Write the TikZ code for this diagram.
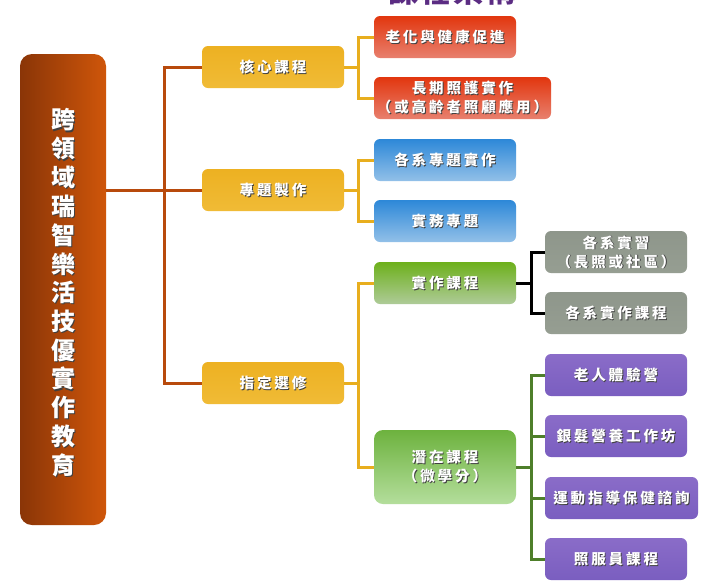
\documentclass[tikz,border=0pt]{standalone}
\usepackage{fontspec}
\newfontfamily\cjk{Noto Sans CJK TC}[LetterSpace=20]
\newfontfamily\cjkt{Noto Sans CJK TC}[LetterSpace=8]
\newfontfamily\cjkm{Noto Sans CJK TC}
\definecolor{goldA}{HTML}{EDB122}
\definecolor{goldM}{HTML}{C98E0E}
\definecolor{goldB}{HTML}{F0BB36}
\definecolor{redA}{HTML}{E2360E}
\definecolor{redM}{HTML}{C42808}
\definecolor{redB}{HTML}{E8806E}
\definecolor{blueA}{HTML}{2D88D8}
\definecolor{blueM}{HTML}{1C68B5}
\definecolor{blueB}{HTML}{92C0E8}
\definecolor{grnA}{HTML}{6DB01B}
\definecolor{grnM}{HTML}{5A9912}
\definecolor{grnB}{HTML}{AECB98}
\definecolor{lgrnA}{HTML}{6DB23E}
\definecolor{lgrnM}{HTML}{5C9A33}
\definecolor{lgrnB}{HTML}{B4DE9C}
\definecolor{grayA}{HTML}{8E968B}
\definecolor{grayM}{HTML}{7A8378}
\definecolor{grayB}{HTML}{969E92}
\definecolor{purA}{HTML}{8A6CC8}
\definecolor{purM}{HTML}{563A9A}
\definecolor{purB}{HTML}{7A5EC0}
\definecolor{mainA}{HTML}{8A3507}
\definecolor{mainB}{HTML}{CF560A}
\definecolor{brownln}{HTML}{B84A0C}
\definecolor{goldln}{HTML}{E8AE1E}
\definecolor{greenln}{HTML}{4E7F2A}
\definecolor{titlec}{HTML}{5B2C83}
\newcommand\mybox[7]{%
  \node[#2, minimum width=#5, minimum height=#6] (#1) at (#3,#4) {};
  \node[shadowtxt] at ([shift={(0.9pt,-0.9pt)}]#1.center) {#7};
  \node[whitetxt] at (#1.center) {#7};
}
\tikzset{
  boxbase/.style={rounded corners=6pt, inner sep=0pt, draw=none},
  goldbox/.style={boxbase, shade, top color=goldA, middle color=goldM, bottom color=goldB},
  redbox/.style={boxbase, shade, shading angle=40, top color=redA, middle color=redM, bottom color=redB},
  bluebox/.style={boxbase, shade, shading angle=40, top color=blueA, middle color=blueM, bottom color=blueB},
  grnbox/.style={boxbase, shade, shading angle=40, top color=grnA, middle color=grnM, bottom color=grnB},
  lgrnbox/.style={boxbase, rounded corners=9pt, shade, shading angle=40, top color=lgrnA, middle color=lgrnM, bottom color=lgrnB},
  graybox/.style={boxbase, shade, shading angle=40, top color=grayA, middle color=grayM, bottom color=grayB},
  purbox/.style={boxbase, shade, shading angle=40, top color=purA, middle color=purM, bottom color=purB},
  whitetxt/.style={text=white, font=\cjk\bfseries\fontsize{14.5}{19}\selectfont, align=center, inner sep=0pt},
  shadowtxt/.style={text=black!75, font=\cjk\bfseries\fontsize{14.5}{19}\selectfont, align=center, inner sep=0pt},
  conn/.style={line width=3pt},
}
\begin{document}
\begin{tikzpicture}[x=1pt,y=-1pt]
\useasboundingbox (0,0) rectangle (720,582);
\clip (0,0) rectangle (720,582);
\fill[white] (0,0) rectangle (720,582);

% title (cut off at top, as in the reference)
\node[anchor=base, text=titlec, font=\cjkt\bfseries\fontsize{30}{30}\selectfont, inner sep=0pt] (title) at (452,2) {課程架構};

% main box
\node[rounded corners=12pt, minimum width=86pt, minimum height=471pt, inner sep=0pt, shade, shading angle=-15, left color=mainA, right color=mainB] (main) at (63,289.5) {};
\foreach \c [count=\i from 0] in {跨,領,域,瑞,智,樂,活,技,優,實,作,教,育}{
  \node[text=black!75, font=\cjkm\bfseries\fontsize{24}{24}\selectfont, inner sep=0pt] at ([shift={(1.2pt,-1.2pt)}]63,{120+28.75*\i}) {\c};
  \node[text=white, font=\cjkm\bfseries\fontsize{24}{24}\selectfont, inner sep=0pt] at (63,{120+28.75*\i}) {\c};
}

% level 1
\mybox{b1}{goldbox}{273}{67}{142pt}{42pt}{核心課程}
\mybox{b2}{goldbox}{273}{190}{142pt}{42pt}{專題製作}
\mybox{b3}{goldbox}{273}{383}{142pt}{42pt}{指定選修}

% level 2
\mybox{r1}{redbox}{445}{37}{142pt}{42pt}{老化與健康促進}
\mybox{r2}{redbox}{462.5}{98}{177pt}{42pt}{長期照護實作\\（或高齡者照顧應用）}
\mybox{u1}{bluebox}{445}{160}{142pt}{42pt}{各系專題實作}
\mybox{u2}{bluebox}{445}{221}{142pt}{42pt}{實務專題}
\mybox{g1}{grnbox}{445}{283}{142pt}{42pt}{實作課程}
\mybox{g2}{lgrnbox}{445}{467}{142pt}{74pt}{潛在課程\\（微學分）}

% level 3
\mybox{y1}{graybox}{616}{252}{142pt}{42pt}{各系實習\\（長照或社區）}
\mybox{y2}{graybox}{616}{313}{142pt}{42pt}{各系實作課程}
\mybox{p1}{purbox}{616}{375}{142pt}{42pt}{老人體驗營}
\mybox{p2}{purbox}{616}{436}{142pt}{42pt}{銀髮營養工作坊}
\mybox{p3}{purbox}{621.5}{498}{153pt}{42pt}{運動指導保健諮詢}
\mybox{p4}{purbox}{616}{559}{142pt}{42pt}{照服員課程}

% trunk coordinates
\coordinate (t1) at (164,0);
\coordinate (t2) at (358,0);
\coordinate (t3) at (531,0);

% brown connectors
\draw[conn, brownln] (main.east |- b2.west) -- (b2.west);
\draw[conn, brownln] (b1.west) -- (b1.west -| t1) -- (b3.west -| t1) -- (b3.west);

% gold connectors
\draw[conn, goldln] (b1.east) -- (b1.east -| t2);
\draw[conn, goldln] (r1.west) -- (r1.west -| t2) -- (r2.west -| t2) -- (r2.west);
\draw[conn, goldln] (b2.east) -- (b2.east -| t2);
\draw[conn, goldln] (u1.west) -- (u1.west -| t2) -- (u2.west -| t2) -- (u2.west);
\draw[conn, goldln] (b3.east) -- (b3.east -| t2);
\draw[conn, goldln] (g1.west) -- (g1.west -| t2) -- (g2.west -| t2) -- (g2.west);

% black connectors
\draw[conn, black] (g1.east) -- (g1.east -| t3);
\draw[conn, black] (y1.west) -- (y1.west -| t3) -- (y2.west -| t3) -- (y2.west);

% green connectors
\draw[conn, greenln] (g2.east) -- (g2.east -| t3);
\draw[conn, greenln] (p1.west) -- (p1.west -| t3) -- (p4.west -| t3) -- (p4.west);
\draw[conn, greenln] (p2.west -| t3) -- (p2.west);
\draw[conn, greenln] (p3.west -| t3) -- (p3.west);
\end{tikzpicture}
\end{document}
